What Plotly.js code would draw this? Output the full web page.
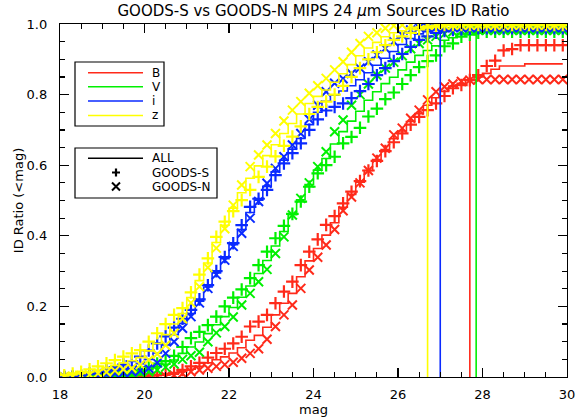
<!DOCTYPE html>
<html><head><meta charset="utf-8">
<script src="https://cdn.plot.ly/plotly-3.0.1.min.js"></script>
<style>html,body{margin:0;padding:0;background:#fff}#chart{width:583px;height:420px}</style>
</head><body><div id="chart"></div>
<script>
// magnitude bin centres
const mags = [18.1,18.3,18.5,18.7,18.9,19.1,19.3,19.5,19.7,19.9,
  20.1,20.3,20.5,20.7,20.9,21.1,21.3,21.5,21.7,21.9,
  22.1,22.3,22.5,22.7,22.9,23.1,23.3,23.5,23.7,23.9,
  24.1,24.3,24.5,24.7,24.9,25.1,25.3,25.5,25.7,25.9,
  26.1,26.3,26.5,26.7,26.9,27.1,27.3,27.5,27.7,27.9,
  28.1,28.3,28.5,28.7,28.9,29.1,29.3,29.5,29.7,29.9];

const bandNames = ['B','V','i','z'];
const bandColors = ['#ff2a1a','#00f000','#0a2aff','#ffff00'];
const limitMags = [27.7, 27.85, 27.0, 26.7];

// B band
const B_all = [0,0,0,0,0,0,0,0.001,0.001,0.002,
  0.003,0.004,0.005,0.008,0.015,0.022,0.03,0.04,0.049,0.057,
  0.068,0.083,0.104,0.118,0.141,0.176,0.209,0.237,0.284,0.329,
  0.364,0.402,0.437,0.481,0.517,0.552,0.585,0.616,0.644,0.675,
  0.697,0.724,0.746,0.770,0.791,0.809,0.824,0.832,0.841,0.850,
  0.860,0.872,0.881,0.881,0.881,0.887,0.887,0.887,0.887,0.887];
const B_S = [0,0,0,0,0,0,0,0.001,0.002,0.003,
  0.004,0.006,0.008,0.012,0.02,0.03,0.04,0.055,0.068,0.08,
  0.095,0.114,0.143,0.157,0.176,0.209,0.242,0.270,0.317,0.355,
  0.390,0.431,0.456,0.492,0.525,0.555,0.585,0.612,0.64,0.665,
  0.69,0.715,0.737,0.756,0.775,0.796,0.818,0.827,0.841,0.855,
  0.881,0.896,0.925,0.929,0.940,0.940,0.940,0.940,0.940,0.940];
const B_N = [0,0,0,0,0,0,0,0,0,0,
  0.001,0.001,0.002,0.005,0.01,0.015,0.02,0.025,0.03,0.035,
  0.042,0.053,0.067,0.08,0.107,0.143,0.176,0.204,0.251,0.303,
  0.339,0.374,0.418,0.471,0.51,0.55,0.585,0.62,0.648,0.686,
  0.705,0.733,0.756,0.785,0.808,0.822,0.830,0.837,0.841,0.843,
  0.843,0.843,0.843,0.843,0.843,0.843,0.843,0.843,0.843,0.843];

// V band
const V_all = [0,0,0,0,0.001,0.003,0.005,0.008,0.011,0.016,
  0.021,0.029,0.036,0.048,0.067,0.085,0.099,0.123,0.148,0.171,
  0.197,0.226,0.258,0.293,0.33,0.371,0.412,0.46,0.502,0.545,
  0.586,0.619,0.66,0.695,0.725,0.753,0.784,0.808,0.831,0.849,
  0.87,0.892,0.911,0.925,0.938,0.954,0.961,0.972,0.976,0.978,
  0.98,0.98,0.98,0.98,0.98,0.98,0.98,0.98,0.98,0.98];
const V_S = [0,0,0,0.001,0.002,0.004,0.006,0.01,0.015,0.02,
  0.028,0.038,0.045,0.06,0.085,0.11,0.128,0.147,0.171,0.2,
  0.225,0.248,0.28,0.317,0.355,0.393,0.428,0.462,0.497,0.539,
  0.577,0.60,0.624,0.662,0.68,0.706,0.738,0.76,0.787,0.806,
  0.83,0.855,0.878,0.895,0.911,0.937,0.945,0.964,0.97,0.975,
  0.978,0.978,0.978,0.978,0.978,0.978,0.978,0.978,0.978,0.978];
const V_N = [0,0,0,0,0,0.002,0.004,0.006,0.008,0.012,
  0.015,0.02,0.028,0.037,0.05,0.06,0.07,0.1,0.125,0.143,
  0.17,0.204,0.237,0.27,0.305,0.35,0.397,0.459,0.506,0.55,
  0.596,0.638,0.695,0.728,0.77,0.80,0.83,0.855,0.875,0.892,
  0.91,0.93,0.945,0.955,0.965,0.972,0.978,0.98,0.982,0.982,
  0.982,0.982,0.982,0.982,0.982,0.982,0.982,0.982,0.982,0.982];

// i band
const I_all = [0,0.001,0.003,0.007,0.01,0.014,0.019,0.024,0.03,0.038,
  0.05,0.068,0.091,0.12,0.152,0.18,0.215,0.255,0.295,0.335,
  0.375,0.418,0.466,0.501,0.54,0.581,0.614,0.645,0.676,0.715,
  0.75,0.781,0.798,0.81,0.825,0.842,0.862,0.883,0.903,0.922,
  0.942,0.959,0.972,0.978,0.983,0.985,0.987,0.988,0.989,0.989,
  0.99,0.99,0.99,0.99,0.99,0.99,0.99,0.99,0.99,0.99];
const I_S = [0,0.002,0.005,0.01,0.015,0.02,0.028,0.035,0.045,0.058,
  0.075,0.095,0.115,0.14,0.165,0.19,0.22,0.26,0.30,0.34,
  0.379,0.43,0.482,0.505,0.53,0.572,0.605,0.634,0.662,0.70,
  0.73,0.755,0.765,0.775,0.79,0.81,0.83,0.855,0.875,0.895,
  0.915,0.935,0.955,0.965,0.975,0.98,0.983,0.985,0.987,0.988,
  0.988,0.988,0.988,0.988,0.988,0.988,0.988,0.988,0.988,0.988];
const I_N = [0,0,0.002,0.004,0.006,0.008,0.01,0.012,0.015,0.018,
  0.025,0.04,0.067,0.10,0.138,0.171,0.21,0.251,0.29,0.331,
  0.37,0.407,0.45,0.497,0.549,0.591,0.624,0.657,0.69,0.73,
  0.77,0.808,0.832,0.845,0.86,0.875,0.893,0.912,0.931,0.95,
  0.969,0.983,0.99,0.99,0.99,0.99,0.99,0.99,0.99,0.99,
  0.99,0.99,0.99,0.99,0.99,0.99,0.99,0.99,0.99,0.99];

// z band
const Z_all = [0.003,0.006,0.01,0.014,0.02,0.027,0.033,0.04,0.046,0.055,
  0.074,0.095,0.12,0.15,0.18,0.225,0.273,0.323,0.381,0.43,
  0.478,0.522,0.563,0.598,0.627,0.658,0.69,0.718,0.745,0.775,
  0.795,0.813,0.835,0.859,0.885,0.91,0.932,0.948,0.964,0.975,
  0.981,0.986,0.991,0.994,0.996,0.997,0.997,0.997,0.997,0.997,
  0.997,0.997,0.997,0.997,0.997,0.997,0.997,0.997,0.997,0.997];
const Z_S = [0.005,0.01,0.015,0.022,0.03,0.039,0.048,0.058,0.067,0.076,
  0.10,0.124,0.15,0.176,0.195,0.24,0.29,0.336,0.397,0.44,
  0.47,0.501,0.53,0.567,0.596,0.625,0.655,0.681,0.71,0.745,
  0.765,0.78,0.80,0.825,0.85,0.875,0.90,0.92,0.94,0.955,
  0.965,0.975,0.985,0.99,0.995,0.997,0.997,0.997,0.997,0.997,
  0.997,0.997,0.997,0.997,0.997,0.997,0.997,0.997,0.997,0.997];
const Z_N = [0,0.002,0.004,0.006,0.01,0.014,0.018,0.022,0.025,0.035,
  0.048,0.065,0.09,0.124,0.165,0.21,0.256,0.31,0.365,0.42,
  0.487,0.544,0.596,0.629,0.657,0.69,0.725,0.756,0.78,0.804,
  0.825,0.846,0.87,0.893,0.92,0.945,0.965,0.975,0.988,0.995,
  0.997,0.997,0.997,0.997,0.997,0.997,0.997,0.997,0.997,0.997,
  0.997,0.997,0.997,0.997,0.997,0.997,0.997,0.997,0.997,0.997];

const allSeries = [B_all, V_all, I_all, Z_all];
const sSeries = [B_S, V_S, I_S, Z_S];
const nSeries = [B_N, V_N, I_N, Z_N];
const legendGroups = ['ALL','GOODS-S','GOODS-N'];

const traces = [];
for (let b = 0; b < 4; b++) {
  const c = bandColors[b];
  traces.push({x: mags, y: allSeries[b], type:'scatter', mode:'lines',
    line:{color:c, width:1.6, shape:'hvh'}, name: bandNames[b]+' ALL', hoverinfo:'skip'});
  traces.push({x: mags, y: sSeries[b], type:'scatter', mode:'markers',
    marker:{symbol:'cross-thin', size:9, color:c, line:{color:c, width:2.2}}, name: bandNames[b]+' S', hoverinfo:'skip'});
  traces.push({x: mags, y: nSeries[b], type:'scatter', mode:'markers',
    marker:{symbol:'x-thin', size:9, color:c, line:{color:c, width:2}}, name: bandNames[b]+' N', hoverinfo:'skip'});
  traces.push({x: [limitMags[b], limitMags[b]], y: [0, 1], type:'scatter', mode:'lines',
    line:{color:c, width:1.6}, name: bandNames[b]+' limit', hoverinfo:'skip'});
}

// layout helpers: pixel -> paper coordinates
const L = 60, R = 567, T = 24, Bt = 377;
const px = v => (v - L) / (R - L);
const py = v => (Bt - v) / (Bt - T);

const shapes = [];
const annotations = [];
const lfont = {family:'DejaVu Sans, sans-serif', size:12, color:'#000'};
// legend box 1
shapes.push({type:'rect', xref:'paper', yref:'paper', x0:px(75), x1:px(164), y0:py(62), y1:py(126),
  line:{color:'#000', width:1.2}, fillcolor:'rgba(0,0,0,0)'});
const rowY1 = [72.7, 86.7, 101, 115.5];
for (let b = 0; b < 4; b++) {
  shapes.push({type:'line', xref:'paper', yref:'paper', x0:px(88), x1:px(143), y0:py(rowY1[b]), y1:py(rowY1[b]),
    line:{color:bandColors[b], width:1.6}});
  annotations.push({xref:'paper', yref:'paper', x:px(150), y:py(rowY1[b]), xanchor:'left', yanchor:'middle',
    text:bandNames[b], showarrow:false, font:lfont});
}
// legend box 2
shapes.push({type:'rect', xref:'paper', yref:'paper', x0:px(75), x1:px(217), y0:py(148), y1:py(198),
  line:{color:'#000', width:1.2}, fillcolor:'rgba(0,0,0,0)'});
const rowY2 = [158.3, 172.5, 186.5];
shapes.push({type:'line', xref:'paper', yref:'paper', x0:px(88), x1:px(143), y0:py(rowY2[0]), y1:py(rowY2[0]),
  line:{color:'#000', width:1.6}});
const cx = 116, h = 4;
shapes.push({type:'path', xref:'paper', yref:'paper',
  path:`M${px(cx-h)},${py(rowY2[1])} L${px(cx+h)},${py(rowY2[1])} M${px(cx)},${py(rowY2[1]-h)} L${px(cx)},${py(rowY2[1]+h)}`,
  line:{color:'#000', width:2.2}});
shapes.push({type:'path', xref:'paper', yref:'paper',
  path:`M${px(cx-h)},${py(rowY2[2]-h)} L${px(cx+h)},${py(rowY2[2]+h)} M${px(cx-h)},${py(rowY2[2]+h)} L${px(cx+h)},${py(rowY2[2]-h)}`,
  line:{color:'#000', width:2}});
for (let k = 0; k < 3; k++) {
  annotations.push({xref:'paper', yref:'paper', x:px(150), y:py(rowY2[k]), xanchor:'left', yanchor:'middle',
    text:legendGroups[k], showarrow:false, font:lfont});
}

const axisCommon = {
  showline:true, linecolor:'#000', linewidth:1.2, mirror:'ticks',
  ticks:'inside', tickcolor:'#000', tickwidth:1.2,
  showgrid:false, zeroline:false,
  tickfont:{family:'DejaVu Sans, sans-serif', size:13, color:'#000'}
};

const layout = {
  width:583, height:420,
  margin:{l:L, r:583-R, t:T, b:420-Bt},
  paper_bgcolor:'#fff', plot_bgcolor:'#fff',
  showlegend:false,
  font:{family:'DejaVu Sans, sans-serif', size:13, color:'#000'},
  title:{text:'GOODS-S vs GOODS-N MIPS 24 <i>μ</i>m Sources ID Ratio',
    font:{family:'DejaVu Sans, sans-serif', size:15, color:'#000'},
    xref:'paper', x:0.5, xanchor:'center', yref:'container', y:1-11/420, yanchor:'middle'},
  xaxis: Object.assign({}, axisCommon, {range:[18,30], tick0:18, dtick:2, ticklen:9, ticklabelstandoff:5,
    minor:{dtick:0.5, ticklen:5, ticks:'inside', tickcolor:'#000', tickwidth:1.2},
    title:{text:'mag', standoff:3, font:{family:'DejaVu Sans, sans-serif', size:13, color:'#000'}}}),
  yaxis: Object.assign({}, axisCommon, {range:[0,1], tick0:0, dtick:0.2, tickformat:'.1f', ticklen:9, ticklabelstandoff:9,
    minor:{dtick:0.05, ticklen:5, ticks:'inside', tickcolor:'#000', tickwidth:1.2},
    title:{text:'ID Ratio (&lt;mag)', standoff:0, font:{family:'DejaVu Sans, sans-serif', size:13, color:'#000'}}}),
  shapes: shapes,
  annotations: annotations
};

Plotly.newPlot('chart', traces, layout, {displayModeBar:false, staticPlot:true});
</script>
</body></html>
